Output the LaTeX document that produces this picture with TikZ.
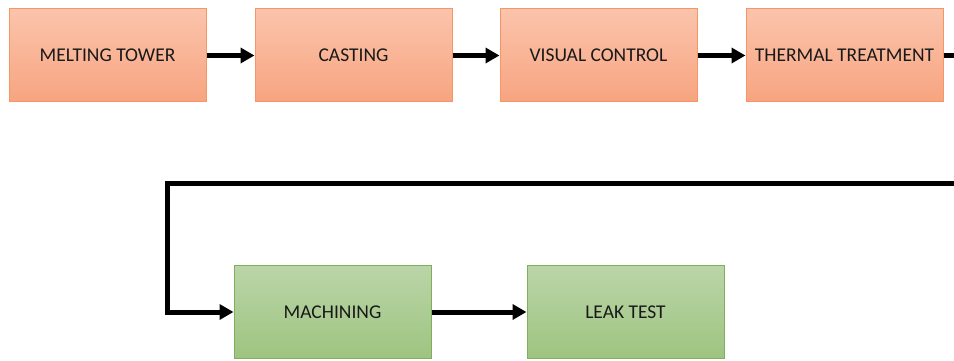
\documentclass[tikz,border=0pt]{standalone}
\usepackage{fontspec}
\setmainfont{Carlito}
\usetikzlibrary{arrows.meta}
\definecolor{ortop}{RGB}{251,196,172}
\definecolor{orbot}{RGB}{247,164,128}
\definecolor{orline}{RGB}{245,150,100}
\definecolor{grtop}{RGB}{186,213,168}
\definecolor{grbot}{RGB}{158,196,128}
\definecolor{grline}{RGB}{128,174,92}
\tikzset{
  stage/.style={draw, line width=1pt, minimum width=197pt, minimum height=93pt,
    inner sep=0pt, font=\fontsize{19.5pt}{23pt}\selectfont, text=black!90,
    shading=axis, shading angle=0},
  hot/.style={stage, draw=orline, top color=ortop, bottom color=orbot},
  cold/.style={stage, draw=grline, top color=grtop, bottom color=grbot},
  flow/.style={line width=5pt, line join=miter, -{Triangle[length=14pt,width=15pt]}}
}
\begin{document}
\begin{tikzpicture}[x=1pt,y=-1pt]
  \useasboundingbox (0,0) rectangle (954,361);
  \clip (0,0) rectangle (954,361);

  % first row
  \node[hot]  (melt)  at (107.5,55.5) {MELTING TOWER};
  \node[hot]  (cast)  at (353.5,55.5) {CASTING};
  \node[hot]  (visc)  at (598.5,55.5) {VISUAL CONTROL};
  \node[hot]  (therm) at (844.5,55.5) {THERMAL TREATMENT};

  % second row
  \node[cold] (mach) at (332.5,312) {MACHINING};
  \node[cold] (leak) at (625.5,312) {LEAK TEST};

  \draw[flow] (melt) -- (cast);
  \draw[flow] (cast) -- (visc);
  \draw[flow] (visc) -- (therm);

  % return line running past the right edge and back along the lower row
  \coordinate (turn) at (975,55.5);
  \coordinate (back) at (975,183);
  \coordinate (corner) at (167,183);
  \draw[flow] (therm.east) -- (turn) -- (back) -- (corner) |- (mach.west);

  \draw[flow] (mach) -- (leak);
\end{tikzpicture}
\end{document}
